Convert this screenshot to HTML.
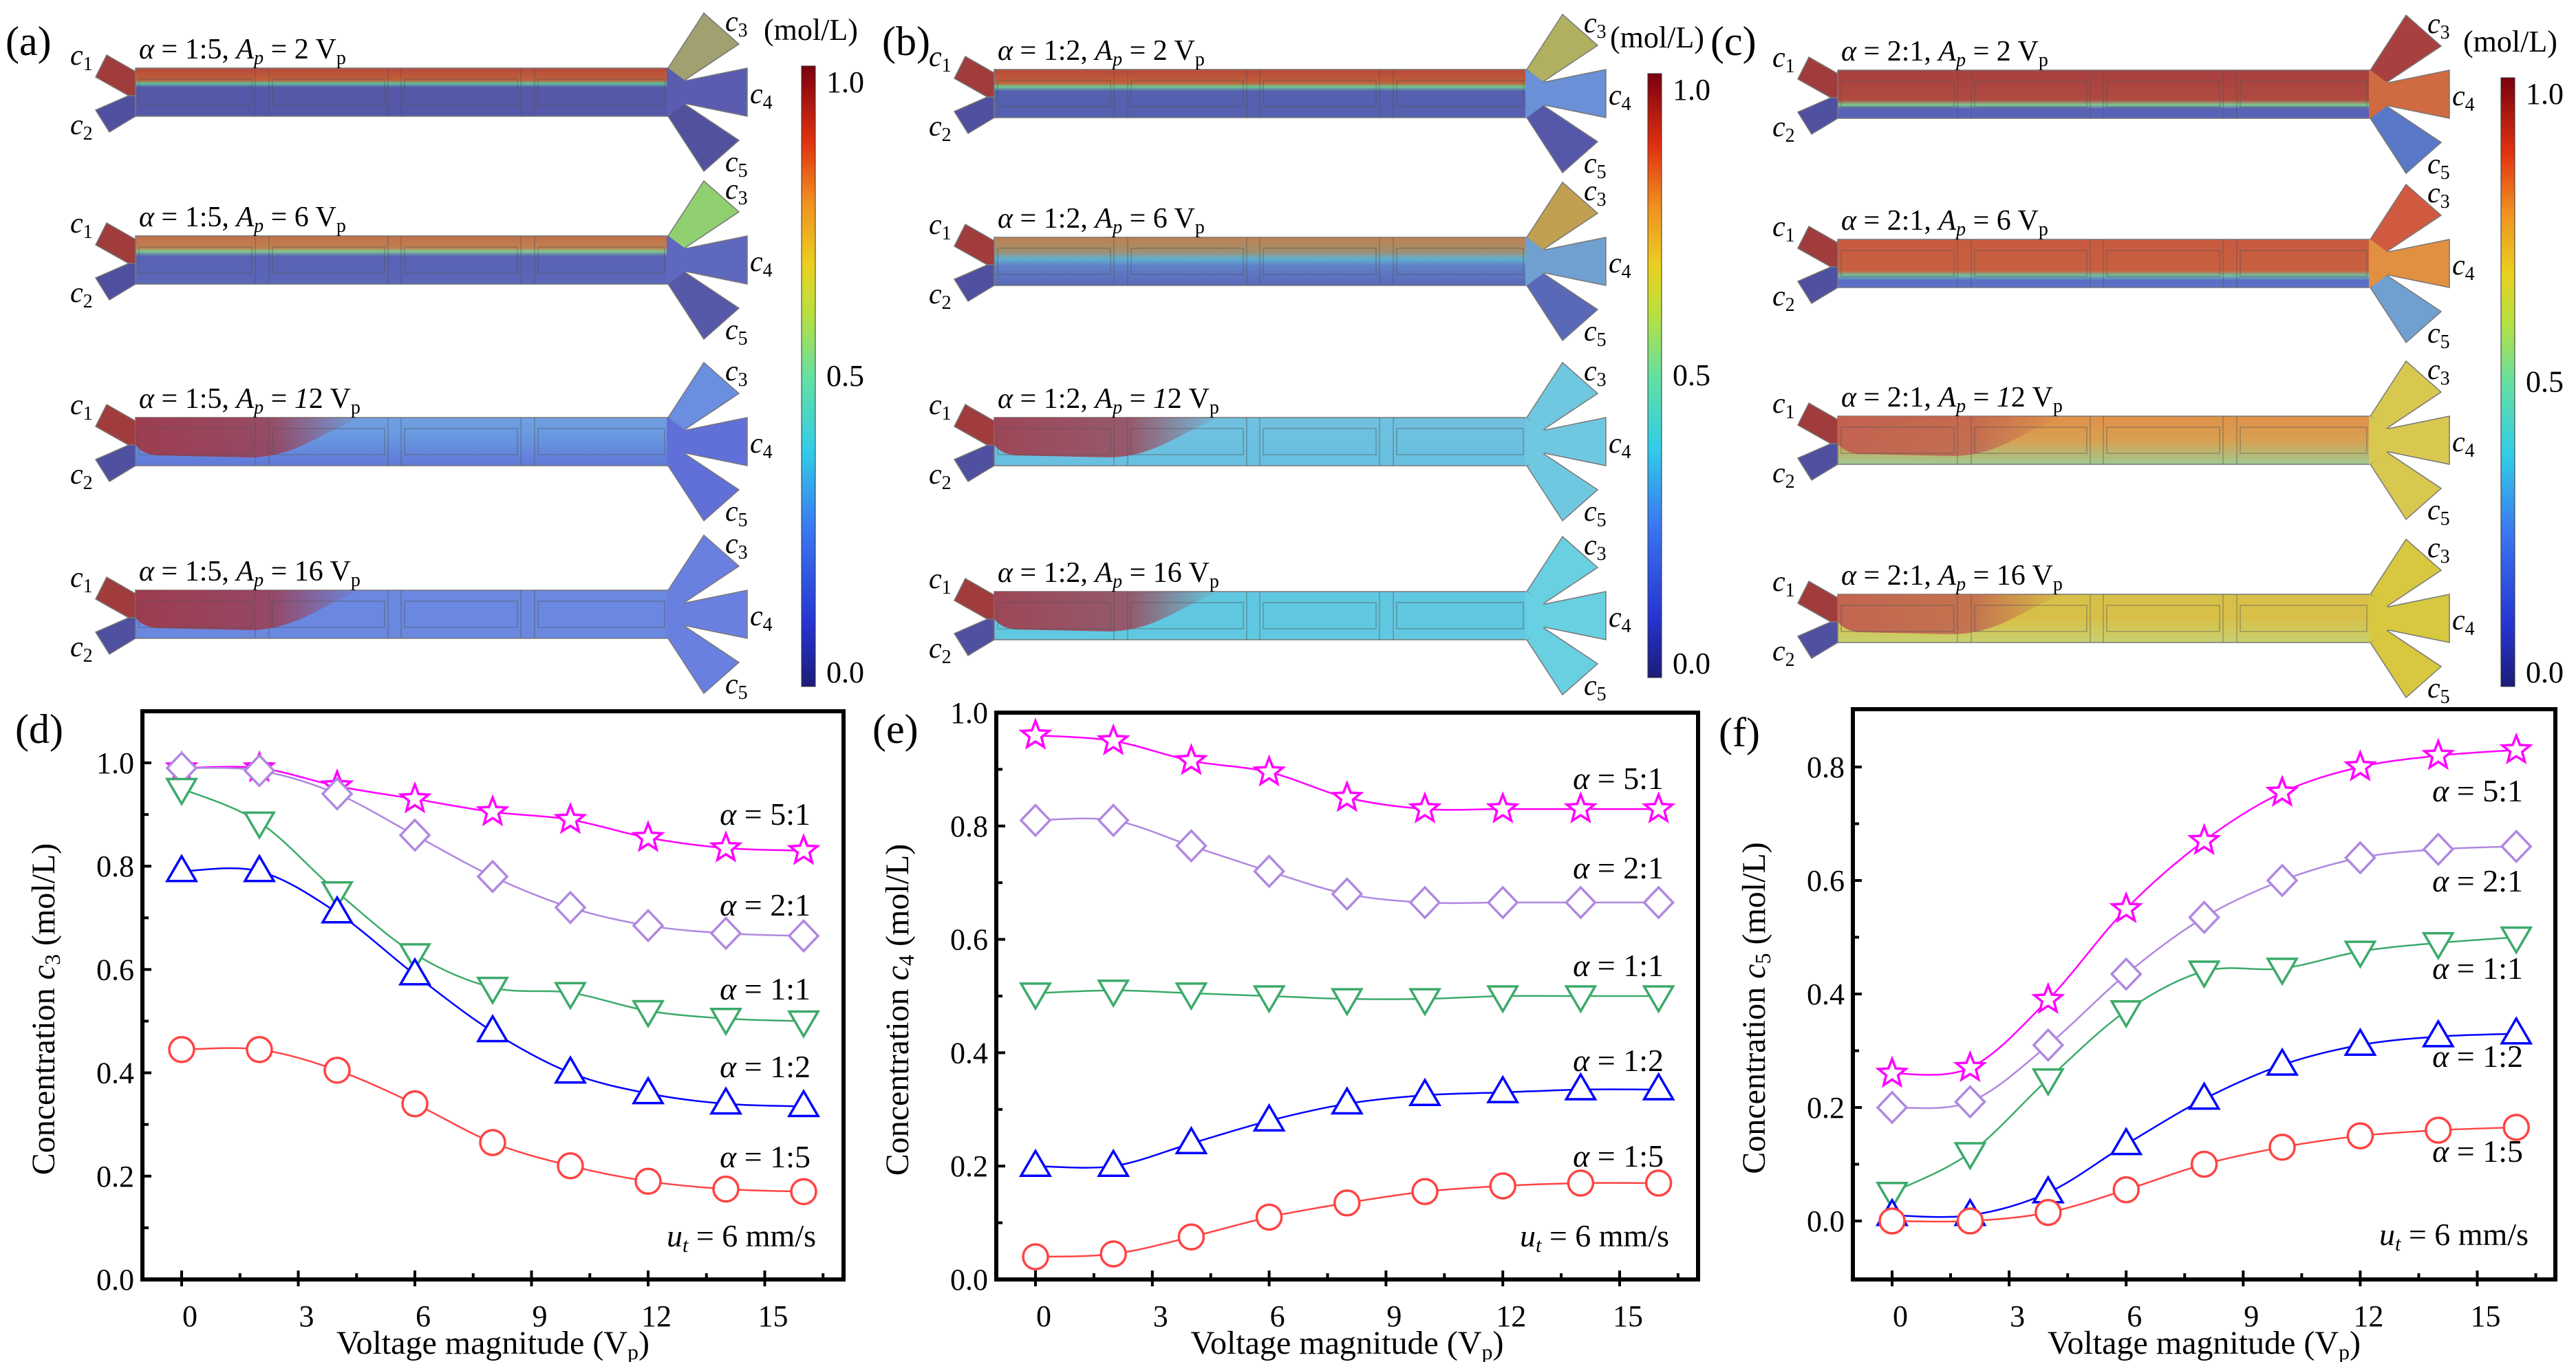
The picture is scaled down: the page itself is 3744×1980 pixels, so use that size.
<!DOCTYPE html>
<html><head><meta charset="utf-8"><style>
html,body{margin:0;padding:0;background:#fff;font-family:"Liberation Serif","DejaVu Serif","Noto Serif CJK SC",serif}
svg{display:block}
svg text{font-family:"Liberation Serif","DejaVu Serif","Noto Serif CJK SC",serif}
</style></head><body>
<svg id="fig" width="3744" height="1980" viewBox="0 0 3744 1980" xmlns="http://www.w3.org/2000/svg">
<defs>
<linearGradient id="jet" x1="0" y1="1" x2="0" y2="0">
<stop offset="0" stop-color="#1c1c78"/><stop offset="0.1" stop-color="#2634d0"/><stop offset="0.25" stop-color="#3a76f0"/>
<stop offset="0.38" stop-color="#32cce8"/><stop offset="0.5" stop-color="#66e0a0"/><stop offset="0.6" stop-color="#b8e040"/>
<stop offset="0.68" stop-color="#ead020"/><stop offset="0.78" stop-color="#f09020"/><stop offset="0.88" stop-color="#e03010"/><stop offset="1" stop-color="#7a0010"/>
</linearGradient>
</defs>
<g id="top"></g>
<g id="charts"></g>
</svg>
<script>
const NS='http://www.w3.org/2000/svg';
function el(tag,attrs,parent){const e=document.createElementNS(NS,tag);for(const k in attrs)e.setAttribute(k,attrs[k]);(parent||document.getElementById('fig')).appendChild(e);return e;}

// ---------- Chart data ----------
const voltages=[0,2,4,6,8,10,12,14,16];
const seriesNames=['5:1','2:1','1:1','1:2','1:5'];
const c3_51=[0.99,0.99,0.955,0.93,0.905,0.89,0.855,0.835,0.83];
const c3_21=[0.99,0.985,0.94,0.86,0.78,0.72,0.685,0.67,0.665];
const c3_11=[0.95,0.885,0.75,0.63,0.565,0.555,0.52,0.505,0.50];
const c3_12=[0.79,0.79,0.71,0.59,0.48,0.40,0.36,0.34,0.335];
const c3_15=[0.445,0.445,0.405,0.34,0.265,0.22,0.19,0.175,0.17];
const c4_51=[0.96,0.95,0.915,0.895,0.85,0.83,0.83,0.83,0.83];
const c4_21=[0.81,0.81,0.765,0.72,0.68,0.665,0.665,0.665,0.665];
const c4_11=[0.505,0.51,0.505,0.50,0.495,0.495,0.50,0.50,0.50];
const c4_12=[0.20,0.20,0.24,0.28,0.31,0.325,0.33,0.335,0.335];
const c4_15=[0.04,0.045,0.075,0.11,0.135,0.155,0.165,0.17,0.17];
const c5_51=[0.26,0.27,0.39,0.55,0.67,0.755,0.80,0.82,0.83];
const c5_21=[0.20,0.21,0.31,0.435,0.535,0.60,0.64,0.655,0.66];
const c5_11=[0.05,0.12,0.25,0.37,0.44,0.445,0.475,0.49,0.50];
const c5_12=[0.01,0.01,0.05,0.135,0.215,0.275,0.31,0.325,0.33];
const c5_15=[0.0,0.0,0.015,0.055,0.10,0.13,0.15,0.16,0.165];
const xTicks=[0,3,6,9,12,15];
const yTicksD=[0,0.2,0.4,0.6,0.8,1.0];
const yTicksF=[0,0.2,0.4,0.6,0.8];

const colors={'5:1':'#ff00ff','2:1':'#b088e0','1:1':'#3caa6a','1:2':'#0000ff','1:5':'#ff4444'};
const markers={'5:1':'star','2:1':'diamond','1:1':'tdown','1:2':'tup','1:5':'circle'};

function spline(pts){
  let d='M'+pts[0][0]+','+pts[0][1];
  for(let i=0;i<pts.length-1;i++){
    const p0=pts[Math.max(i-1,0)],p1=pts[i],p2=pts[i+1],p3=pts[Math.min(i+2,pts.length-1)];
    const c1=[p1[0]+(p2[0]-p0[0])/6,p1[1]+(p2[1]-p0[1])/6],c2=[p2[0]-(p3[0]-p1[0])/6,p2[1]-(p3[1]-p1[1])/6];
    d+=` C${c1[0]},${c1[1]} ${c2[0]},${c2[1]} ${p2[0]},${p2[1]}`;
  }
  return d;
}
function marker(g,type,x,y,col){
  let m;
  if(type==='circle')m=el('circle',{cx:x,cy:y,r:18},g);
  else if(type==='diamond')m=el('polygon',{points:`${x},${y-22} ${x+21},${y} ${x},${y+22} ${x-21},${y}`},g);
  else if(type==='tup')m=el('polygon',{points:`${x},${y-22} ${x+21},${y+14} ${x-21},${y+14}`},g);
  else if(type==='tdown')m=el('polygon',{points:`${x},${y+22} ${x+21},${y-14} ${x-21},${y-14}`},g);
  else{let p=[];for(let i=0;i<10;i++){const r=i%2?9:21,a=-Math.PI/2+i*Math.PI/5;p.push((x+r*Math.cos(a)).toFixed(1)+','+(y+r*Math.sin(a)).toFixed(1));}m=el('polygon',{points:p.join(' ')},g);}
  m.setAttribute('fill','#fff');m.setAttribute('stroke',col);m.setAttribute('stroke-width','3.5');
  
  
}

function chart(cfg){
  const g=el('g',{},document.getElementById('charts'));
  
  
  const X=v=>cfg.x0+v*cfg.xs, Y=v=>cfg.yA+(v-cfg.vA)*(cfg.yB-cfg.yA)/(cfg.vB-cfg.vA);
  const tg=el('g',{stroke:'#000','stroke-width':4},g);
  
  for(let v=0;v<=16.6;v+=1.5){const maj=Math.abs(v/3-Math.round(v/3))<1e-6;el('line',{x1:X(v),x2:X(v),y1:cfg.bottom+(maj?10:0),y2:cfg.bottom-(maj?13:9)},tg);}
  for(let v=cfg.tickMin;v<=cfg.vTop+1e-6;v+=0.1){const maj=Math.abs(v*5-Math.round(v*5))<1e-6;el('line',{x1:cfg.left,x2:cfg.left+(maj?13:9),y1:Y(v),y2:Y(v)},tg);}
  el('rect',{x:cfg.left,y:cfg.top,width:cfg.right-cfg.left,height:cfg.bottom-cfg.top,fill:'none',stroke:'#000','stroke-width':6},g);
  xTicks.forEach(t=>{const tx=el('text',{x:X(t)+12,y:1928,'font-size':44,'text-anchor':'middle'},g);tx.textContent=t;});
  cfg.yTicks.forEach(t=>{const tx=el('text',{x:cfg.left-12,y:Y(t)+15,'font-size':44,'text-anchor':'end'},g);tx.textContent=t.toFixed(1);});
  const xt=el('text',{x:(cfg.left+cfg.right)/2,y:1968,'font-size':48,'text-anchor':'middle'},g);
  xt.innerHTML='Voltage magnitude (V<tspan font-size="32" dy="8">p</tspan><tspan dy="-8">)</tspan>';
  
  const yt=el('text',{transform:`translate(${cfg.left-128},${(cfg.top+cfg.bottom)/2+20}) rotate(-90)`,'font-size':48,'text-anchor':'middle'},g);
  yt.innerHTML=`Concentration <tspan font-style="italic">c</tspan><tspan font-size="32" dy="8">${cfg.sub}</tspan><tspan dy="-8"> (mol/L)</tspan>`;
  
  const pl=el('text',{x:cfg.plx,y:cfg.ply,'font-size':60},g);pl.textContent=cfg.panel;
  
  cfg.series.forEach((vals,i)=>{
    const key=seriesNames[i],col=colors[key];
    const sg=el('g',{},g);
    const pts=vals.map((v,j)=>[X(voltages[j]),Y(v)]);
    const p=el('path',{d:spline(pts),fill:'none',stroke:col,'stroke-width':2.5},sg);
    
    pts.forEach(q=>marker(sg,markers[key],q[0],q[1],col));
    const lb=el('text',{x:cfg.labX,y:cfg.labY[i],'font-size':46,'text-anchor':'end'},g);
    lb.innerHTML=`<tspan font-style="italic">α</tspan> = ${key}`;
    
  });
  const ut=el('text',{x:cfg.labX+8,y:cfg.labY[5],'font-size':46,'text-anchor':'end'},g);
  ut.innerHTML='<tspan font-style="italic">u</tspan><tspan font-style="italic" font-size="30" dy="8">t</tspan><tspan dy="-8"> = 6 mm/s</tspan>';
  
}
chart({name:'chart-d-c3',panel:'(d)',plx:22,ply:1080,sub:'3',left:207,right:1226,top:1034,bottom:1860,x0:264,xs:56.5,vA:0,yA:1860,vB:1,yB:1109,vTop:1.1,tickMin:0,yTicks:yTicksD,
  series:[c3_51,c3_21,c3_11,c3_12,c3_15],labX:1178,labY:[1199,1331,1453,1566,1697,1812]});
chart({name:'chart-e-c4',panel:'(e)',plx:1268,ply:1080,sub:'4',left:1448,right:2468,top:1036,bottom:1860,x0:1505,xs:56.6,vA:0,yA:1860,vB:1,yB:1036,vTop:1.0,tickMin:0,yTicks:yTicksD,
  series:[c4_51,c4_21,c4_11,c4_12,c4_15],labX:2418,labY:[1147,1277,1419,1557,1696,1812]});
chart({name:'chart-f-c5',panel:'(f)',plx:2498,ply:1085,sub:'5',left:2693,right:3714,top:1031,bottom:1860,x0:2750,xs:56.7,vA:0,yA:1775,vB:0.8,yB:1115,vTop:0.85,tickMin:0,yTicks:yTicksF,
  series:[c5_51,c5_21,c5_11,c5_12,c5_15],labX:3667,labY:[1165,1296,1423,1551,1689,1810]});

// ---------- Top concentration maps ----------
const topG=document.getElementById('top');
const panels=[
 {label:'(a)',lx:8,ly:80,S:197,cb:[1165,96,998],ratio:'1:5',
  rows:[
   {top:99,V:'2',stops:[['#b84a3a',0],['#c0603a',0.25],['#60c0a0',0.32],['#5558a8',0.4],['#5558a8',1]],left:null,c3:'#a0a070',c4:'#5a5cb0',c5:'#52519e'},
   {top:343,V:'6',stops:[['#c07048',0],['#c08050',0.25],['#80c890',0.32],['#5a62b5',0.42],['#5a66b8',1]],left:null,c3:'#90d070',c4:'#5e68be',c5:'#5658a8'},
   {top:607,V:'12',stops:[['#6fa0e0',0],['#6a98e0',0.4],['#5f78d8',1]],left:'#a03848',c3:'#6a8ee0',c4:'#6070d8',c5:'#6070d8'},
   {top:858,V:'16',stops:[['#6a88e0',0],['#6a88e0',1]],left:'#a03848',c3:'#6a80e0',c4:'#6a80e0',c5:'#6a80e0'}]},
 {label:'(b)',lx:1282,ly:80,S:1445,cb:[2395,107,985],ratio:'1:2',
  rows:[
   {top:101,V:'2',stops:[['#b84a3a',0],['#c0603a',0.28],['#70c890',0.36],['#5560b0',0.45],['#5560b0',1]],left:null,c3:'#b0b060',c4:'#6a90d8',c5:'#5558a8'},
   {top:345,V:'6',stops:[['#c08050',0],['#a09070',0.3],['#60b0d0',0.45],['#6080c8',0.6],['#5a68b8',1]],left:null,c3:'#c0a050',c4:'#70a0d0',c5:'#5a68b8'},
   {top:607,V:'12',stops:[['#70c0e0',0],['#68c0e0',1]],left:'#a04050',c3:'#70c8e0',c4:'#70c8e0',c5:'#70c8e0'},
   {top:860,V:'16',stops:[['#60c8e0',0],['#60c8e0',1]],left:'#a04050',c3:'#68d0e0',c4:'#68d0e0',c5:'#68d0e0'}]},
 {label:'(c)',lx:2486,ly:80,S:2671,cb:[3635,113,998],ratio:'2:1',
  rows:[
   {top:102,V:'2',stops:[['#a84040',0],['#b04a40',0.62],['#80c890',0.72],['#5a62b8',0.8],['#5a62b8',1]],left:null,c3:'#a84040',c4:'#d06a40',c5:'#5a78c8'},
   {top:348,V:'6',stops:[['#c85a40',0],['#c86040',0.65],['#70c0a0',0.75],['#5a70c8',0.85],['#5a70c8',1]],left:null,c3:'#d05a40',c4:'#e09040',c5:'#70a0d0'},
   {top:605,V:'12',stops:[['#e09048',0],['#d8a050',0.5],['#a0c890',1]],left:'#c06050',c3:'#d8c850',c4:'#d8c850',c5:'#d8c850'},
   {top:864,V:'16',stops:[['#d8c048',0],['#d8c048',0.5],['#c8d070',1]],left:'#c06050',c3:'#d8c840',c4:'#d8c840',c5:'#d8c840'}]}
];
let gid=0;
panels.forEach(P=>{
  const pg=el('g',{},topG);
  
  
  const pl=el('text',{x:P.lx,y:P.ly,'font-size':60},pg);pl.textContent=P.label;
  
  P.rows.forEach(R=>{
    const S=P.S,T=R.top;const rg=el('g',{},pg);
    
    const id='g'+(gid++);
    const lg=el('linearGradient',{id:id,x1:0,y1:0,x2:0,y2:1},document.querySelector('defs'));
    R.stops.forEach(s=>el('stop',{offset:s[1],'stop-color':s[0]},lg));
    const poly=(pts,fill,name)=>{const p=el('polygon',{points:pts.map(q=>(S+q[0])+','+(T+q[1])).join(' '),fill:fill,stroke:'#777','stroke-width':1.5},rg);return p;};
    poly([[-42,-19],[0,5],[0,40],[-10,40],[-58,13]],'#a03c3c','inlet-c1');
    poly([[-10,40],[0,40],[0,70],[-38,93],[-58,61]],'#5050a0','inlet-c2');
    poly([[774,0],[826,-80],[877,-35],[796,19]],R.c3,'outlet-c3');
    poly([[796,19],[889,0],[889,70],[796,51]],R.c4,'outlet-c4');
    poly([[774,70],[796,51],[877,105],[826,150]],R.c5,'outlet-c5');
    const m=el('rect',{x:S,y:T,width:774,height:70,fill:`url(#${id})`,stroke:'#777','stroke-width':1.5},rg);
    
    const j=el('polygon',{points:`${S+772},${T} ${S+774},${T} ${S+800},${T+19} ${S+800},${T+51} ${S+774},${T+70} ${S+772},${T+70}`,fill:R.c4},rg);
    
    if(R.left){const id2='h'+(gid++);const hg=el('linearGradient',{id:id2,x1:0,y1:0,x2:1,y2:0},document.querySelector('defs'));
      el('stop',{offset:0,'stop-color':R.left,'stop-opacity':0.95},hg);el('stop',{offset:0.6,'stop-color':R.left,'stop-opacity':0.8},hg);el('stop',{offset:1,'stop-color':R.left,'stop-opacity':0},hg);
      const b=el('path',{d:`M${S},${T} L${S+330},${T} C${S+270},${T+20} ${S+240},${T+55} ${S+170},${T+58} L${S+30},${T+55} C${S+10},${T+52} ${S+5},${T+45} ${S},${T+40} Z`,fill:`url(#${id2})`},rg);
      }
    const lines=el('g',{stroke:'#555','stroke-opacity':0.45,'stroke-width':1.5,fill:'none'},rg);
    [174,194,367,386,560,580].forEach(x=>el('line',{x1:S+x,x2:S+x,y1:T,y2:T+70},lines));
    [[0,174],[194,367],[386,560],[580,774]].forEach(r=>{el('rect',{x:S+r[0]+5,y:T+16,width:r[1]-r[0]-10,height:38},lines);});
    const lab=el('text',{x:S+5,y:T-14,'font-size':42},rg);
    lab.innerHTML=`<tspan font-style="italic">α</tspan> = ${P.ratio}, <tspan font-style="italic">A</tspan><tspan font-style="italic" font-size="28" dy="8">p</tspan><tspan dy="-8"> = ${R.V==='12'?'<tspan font-style="italic">1</tspan>2':R.V} V</tspan><tspan font-size="28" dy="8">p</tspan>`;
    
    [['1',-95,-5],['2',-95,96],['3',857,-54],['4',893,51],['5',857,150]].forEach(c=>{
      const t=el('text',{x:S+c[1],y:T+c[2],'font-size':42},rg);
      t.innerHTML=`<tspan font-style="italic">c</tspan><tspan font-size="28" dy="8">${c[0]}</tspan>`;
      
    });
  });
  const [cx,cy0,cy1]=P.cb;
  const cb=el('rect',{x:cx,y:cy0,width:20,height:cy1-cy0,fill:'url(#jet)',stroke:'#333','stroke-width':1},pg);
  
  [['1.0',cy0+38],['0.5',(cy0+cy1)/2+14],['0.0',cy1-6]].forEach(l=>{const t=el('text',{x:cx+36,y:l[1],'font-size':44},pg);t.textContent=l[0];});
  const u=el('text',{x:cx-55,y:cy0-38,'font-size':44},pg);u.textContent='(mol/L)';
  
});
</script>
</body></html>
